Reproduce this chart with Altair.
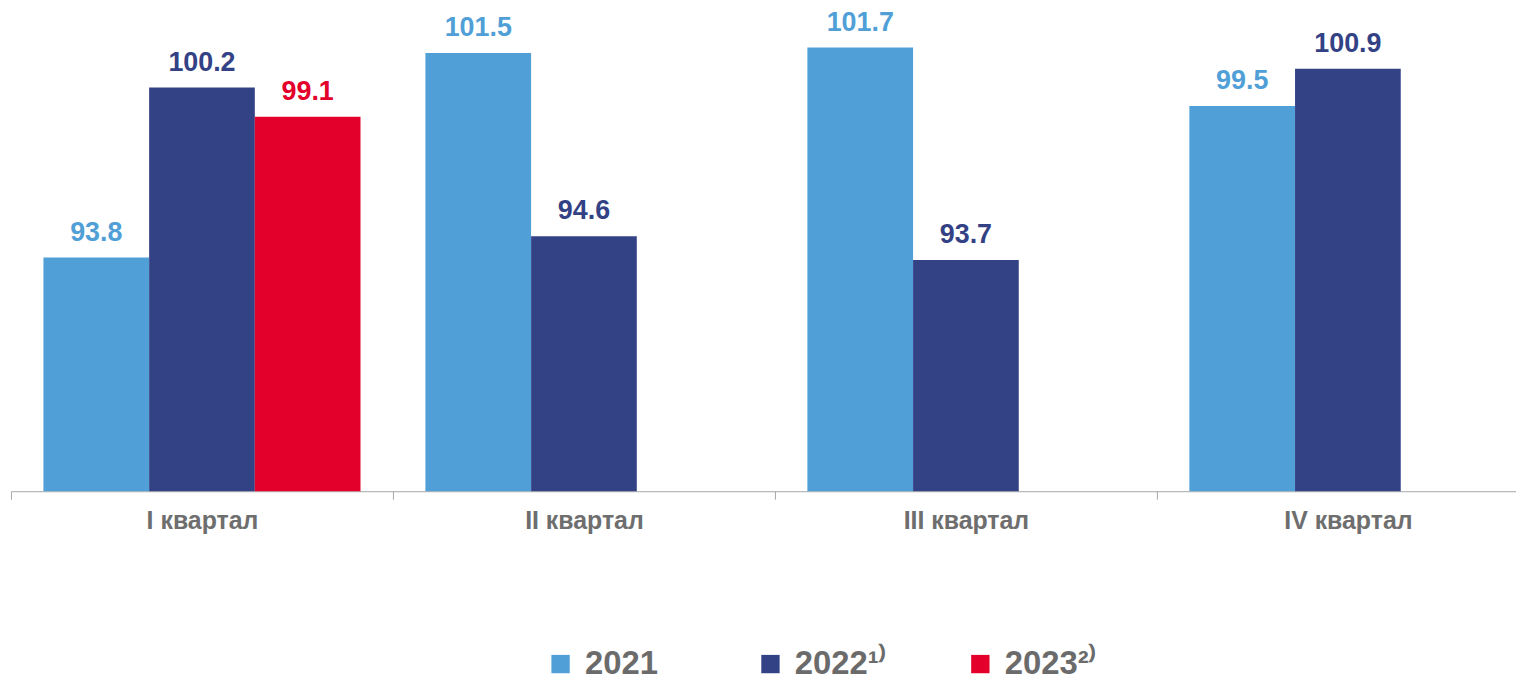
import altair as alt
import pandas as pd

quarters = ["I квартал", "II квартал", "III квартал", "IV квартал"]
series = ["2021", "2022", "2023"]
v2021 = [93.8, 101.5, 101.7, 99.5]
v2022 = [100.2, 94.6, 93.7, 100.9]
v2023 = [99.1, None, None, None]
y_min, y_max = 85, 102
colors = ["#519FD7", "#334185", "#E3002B"]

rows = []
for s, vals in zip(series, [v2021, v2022, v2023]):
    for q, v in zip(quarters, vals):
        if v is not None:
            rows.append({"quarter": q, "series": s, "value": v})
df = pd.DataFrame(rows)

FONT = "Liberation Sans"

x_enc = alt.X(
    "quarter:N",
    sort=quarters,
    scale=alt.Scale(range=[0, 1536], paddingInner=0, paddingOuter=0),
    axis=alt.Axis(
        title=None,
        labelAngle=0,
        labelFont=FONT,
        labelFontSize=25,
        labelFontWeight="bold",
        labelColor="#6E6E6E",
        labelPadding=9,
        domainColor="#A6A6A6",
        domainWidth=1,
        tickColor="#A6A6A6",
        tickSize=8,
        tickBand="extent",
    ),
)
xo_enc = alt.XOffset(
    "series:N",
    sort=series,
    scale=alt.Scale(domain=series, paddingInner=0, paddingOuter=0.307),
)
y_enc = alt.Y(
    "value:Q",
    scale=alt.Scale(domain=[y_min, y_max], zero=False, nice=False),
    axis=None,
)
color_scale = alt.Scale(domain=series, range=colors)

label_expr = "datum.label == '2022' ? '2022¹⁾' : (datum.label == '2023' ? '2023²⁾' : datum.label)"

bars = alt.Chart(df).mark_bar().encode(
    x=x_enc,
    xOffset=xo_enc,
    y=y_enc,
    y2=alt.datum(y_min),
    color=alt.Color(
        "series:N",
        scale=color_scale,
        legend=alt.Legend(
            title=None,
            orient="none",
            legendX=536,
            legendY=611,
            direction="horizontal",
            columns=3,
            gridAlign="all",
            columnPadding=78,
            symbolType="square",
            symbolSize=340,
            symbolStrokeWidth=0,
            symbolOpacity=1,
            labelFont=FONT,
            labelFontSize=33,
            labelFontWeight="bold",
            labelColor="#6B6B6B",
            labelOffset=8,
            labelExpr=label_expr,
            labelLimit=400,
        ),
    ),
)

labels = alt.Chart(df).mark_text(
    font=FONT,
    fontSize=27,
    fontWeight="bold",
    baseline="alphabetic",
    align="center",
    dy=-17,
).encode(
    x=x_enc,
    xOffset=xo_enc,
    y=y_enc,
    text=alt.Text("value:Q", format=".1f"),
    color=alt.Color("series:N", scale=color_scale, legend=None),
)

chart = (
    alt.layer(bars, labels)
    .properties(
        width=1513,
        height=454,
        autosize=alt.AutoSizeParams(type="none"),
        padding={"left": 3, "top": 30, "right": 0, "bottom": 192},
        background="white",
    )
    .configure_view(strokeWidth=0, stroke="transparent")
)

chart.save("out.html", embed_options={"renderer": "svg", "actions": False})
